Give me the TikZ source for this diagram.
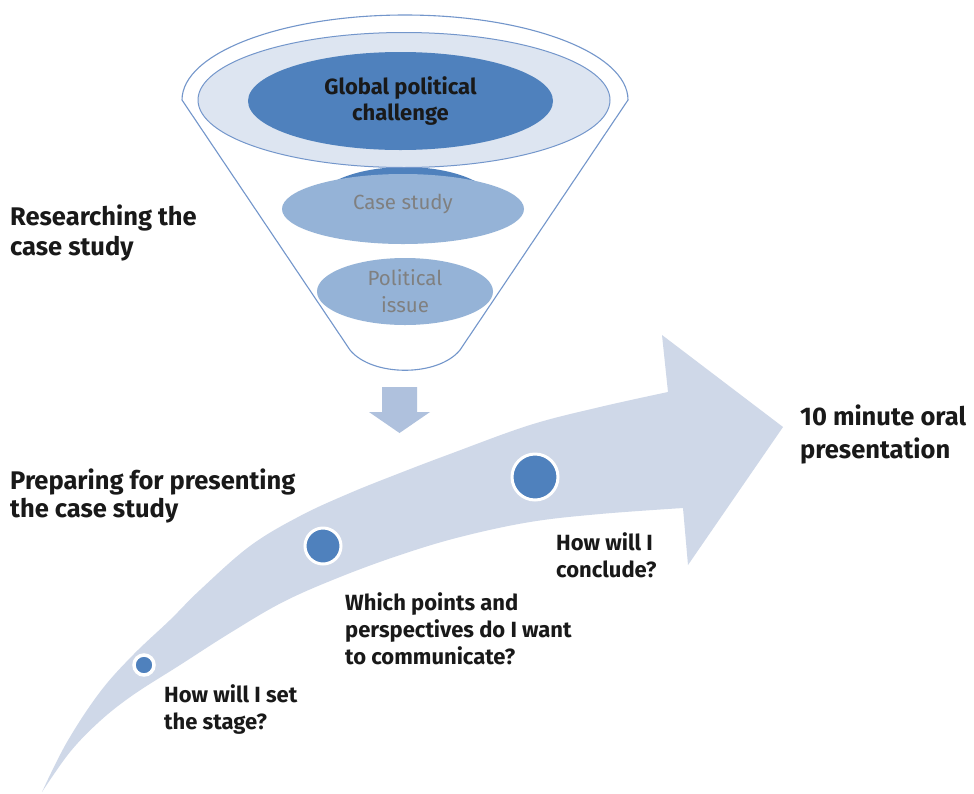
\documentclass[tikz,border=0pt]{standalone}
\usepackage{fontspec}
\setmainfont{Fira Sans}
\usetikzlibrary{shapes.geometric}
\definecolor{darkblue}{RGB}{79,129,189}
\definecolor{midblue}{RGB}{149,179,215}
\definecolor{ringfill}{RGB}{221,229,241}
\definecolor{rimline}{RGB}{115,150,203}
\definecolor{bandfill}{RGB}{207,216,232}
\definecolor{downfill}{RGB}{175,193,221}
\definecolor{greytext}{RGB}{128,128,128}
\definecolor{labtext}{RGB}{25,25,25}
\tikzset{
  biglabel/.style={anchor=north west, inner sep=0pt, align=left, text=labtext, font=\bfseries\fontsize{25.5}{30}\selectfont},
  smalllabel/.style={anchor=north west, inner sep=0pt, align=left, text=labtext, font=\bfseries\fontsize{22}{27}\selectfont},
  funnelell/.style={ellipse, inner sep=0pt, align=center},
  dot/.style={circle, fill=darkblue, draw=white, line width=3pt, inner sep=0pt}
}
\begin{document}
\begin{tikzpicture}[x=1pt,y=-1pt]
\useasboundingbox (0,0) rectangle (974,793);
\fill[white] (0,0) rectangle (974,793);
% big curved arrow
\fill[bandfill] plot[smooth, tension=0.6] coordinates {(42,792) (67,742) (100,692) (133,655) (170,620) (200,590) (250,546) (300,516) (350,493) (400,473) (450,454) (530,425) (600,407) (668,392)}
  -- (662,335) -- (783,427) -- (688,565)
  -- plot[smooth, tension=0.6] coordinates {(683,508) (600,514) (530,522) (460,537) (400,555) (340,577) (283,602) (230,633) (180,665) (133,695) (100,721) (70,752) (42,792)} -- cycle;
% funnel body
\draw[rimline, line width=1.1pt, fill=white] (628,100) arc[start angle=0, end angle=180, x radius=223pt, y radius=85pt]
  -- (350,350) .. controls (372,377) and (438,377) .. (460,350) -- cycle;
\fill[darkblue] (405,205) ellipse[x radius=90pt, y radius=38pt];
\node[funnelell, fill=ringfill, draw=rimline, line width=1pt, minimum width=412pt, minimum height=135pt] (ring) at (404,100) {};
\node[funnelell, fill=darkblue, minimum width=305pt, minimum height=98pt, text=labtext, font=\bfseries\fontsize{22}{26}\selectfont] (gpc) at (400.5,101) {Global political\\challenge};
\node[funnelell, fill=midblue, minimum width=242pt, minimum height=70pt] (cs) at (403,209) {};
\node[text=greytext, inner sep=0pt, font=\fontsize{20.5}{24}\selectfont] (cstext) at (403,204) {Case study};
\node[funnelell, fill=midblue, text=greytext, minimum width=176pt, minimum height=67pt, font=\fontsize{20.5}{27}\selectfont] (pi) at (405,291.5) {Political\\issue};
% down arrow
\fill[downfill] (382,387) -- (417,387) -- (417,412) -- (430,412) -- (399.5,433) -- (369,412) -- (382,412) -- cycle;
% dots on the arrow
\node[dot, minimum size=20pt, line width=3.5pt] (d1) at (144,665) {};
\node[dot, minimum size=36pt] (d2) at (323,546) {};
\node[dot, minimum size=46pt] (d3) at (535,477) {};
% labels
\node[biglabel] (research) at (10,204.5) {Researching the\\case study};
\node[biglabel, font=\bfseries\fontsize{25.5}{28}\selectfont] (prep) at (10,468.5) {Preparing for presenting\\the case study};
\node[biglabel, font=\bfseries\fontsize{25.5}{33}\selectfont] (oral) at (800,404.5) {10 minute oral\\presentation};
\node[smalllabel] (conclude) at (556,532) {How will I\\conclude?};
\node[smalllabel] (points) at (345,592) {Which points and\\perspectives do I want\\to communicate?};
\node[smalllabel] (stage) at (164,684) {How will I set\\the stage?};
\end{tikzpicture}
\end{document}
